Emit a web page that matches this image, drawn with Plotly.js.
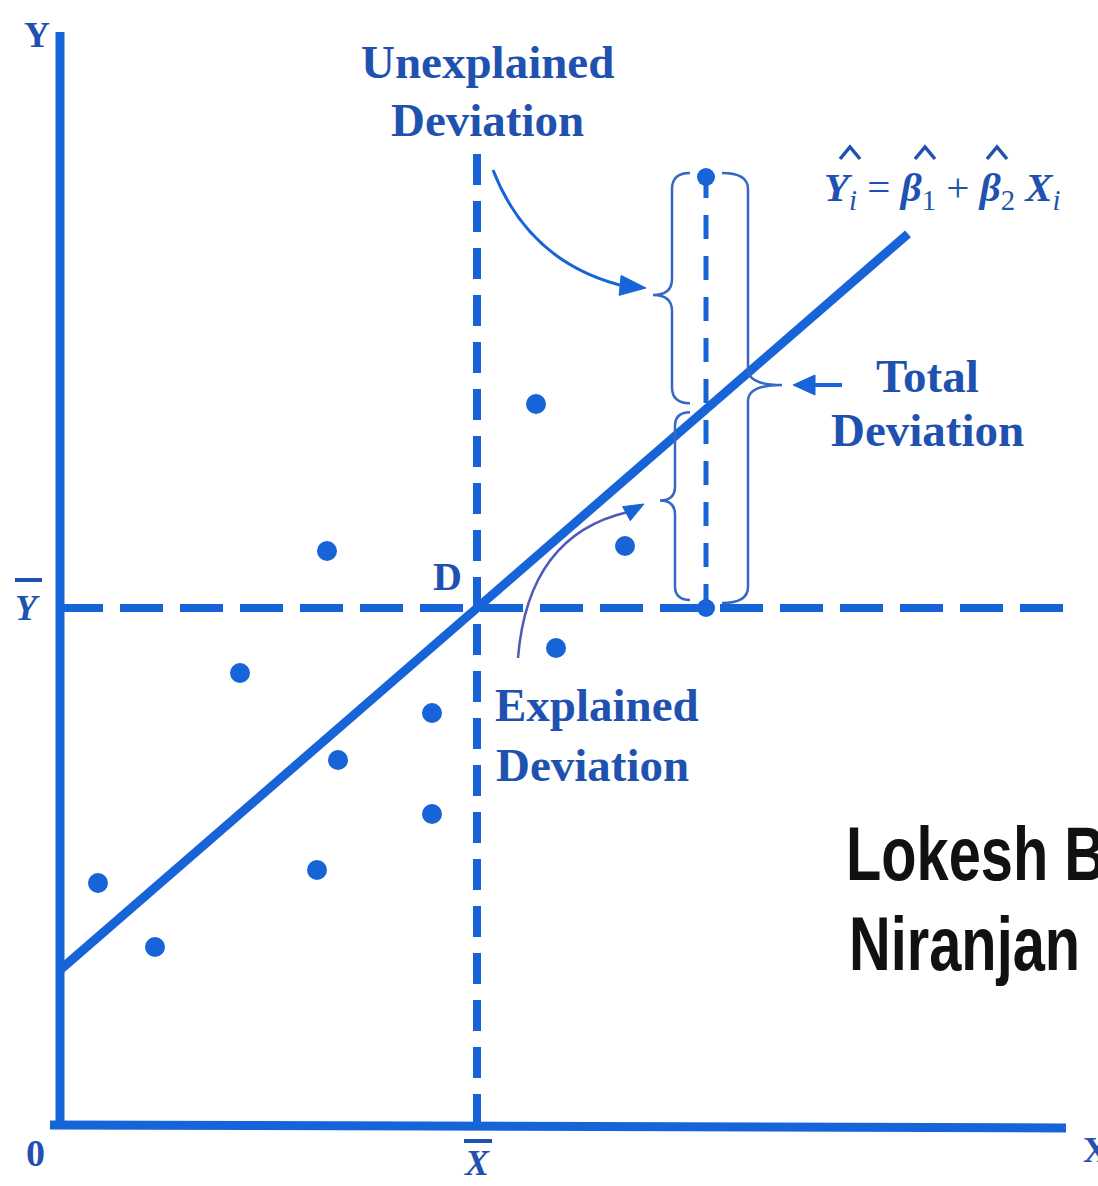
<!DOCTYPE html>
<html>
<head>
<meta charset="utf-8">
<script src="https://cdn.plot.ly/plotly-3.0.1.min.js"></script>
<style>html,body{margin:0;padding:0;background:#fff;}#chart{width:1098px;height:1186px;}</style>
</head>
<body>
<div id="chart"></div>
<script>
// ---- data (diagram units) ----
const obsX = [38, 95, 180, 267, 278, 257, 372, 372, 476, 496, 565];
const obsY = [242, 178, 452, 574, 365, 255, 412, 311, 721, 477, 579];
const meanX = 417;            // X-bar
const meanY = 517;            // Y-bar
const beta1 = 155;            // intercept
const beta2 = (meanY - beta1) / meanX; // slope, line passes through D
const lineX = [0, 848];
const obsXi = 646;            // highlighted observation
const obsYi = 948;
const axisXEnd = 1006;
const axisYTop = 1093;
const meanLineXEnd = 1003;
const meanLineYTop = 975;
const authorLines = ['Lokesh B', 'Niranjan'];

// ---- styles ----
const BLUE = '#1664d8';
const TEXT = '#1f52b0';
const THIN = '#3568c4';
const SERIF = 'Liberation Serif, Times New Roman, serif';
const SANS = 'Liberation Sans Narrow, Liberation Sans, Arial, sans-serif';

const fitY = lineX.map(x => beta1 + beta2 * x);
const yHat = beta1 + beta2 * obsXi;

const traces = [
  // axes
  {x: [0, 0], y: [-2, axisYTop], mode: 'lines', line: {color: BLUE, width: 9}},
  {x: [-10, axisXEnd], y: [0, -3], mode: 'lines', line: {color: BLUE, width: 9}},
  // mean lines
  {x: [0, meanLineXEnd], y: [meanY, meanY], mode: 'lines', line: {color: BLUE, width: 8, dash: '43px,17px'}},
  {x: [meanX, meanX], y: [0, meanLineYTop], mode: 'lines', line: {color: BLUE, width: 8, dash: '31px,16px'}},
  // residual vertical
  {x: [obsXi, obsXi], y: [meanY, obsYi], mode: 'lines', line: {color: BLUE, width: 5, dash: '24px,17px'}},
  // regression line
  {x: lineX, y: fitY, mode: 'lines', line: {color: BLUE, width: 9}},
  // observations
  {x: obsX, y: obsY, mode: 'markers', marker: {color: BLUE, size: 20}},
  {x: [obsXi, obsXi], y: [obsYi, meanY], mode: 'markers', marker: {color: BLUE, size: 18}}
];

// brace path: side 'left' => "{", 'right' => "}"
function brace(xb, yTop, yBot, side, depth, curl, r, tipY) {
  const s = side === 'left' ? -1 : 1;
  const xt = xb + s * depth;
  const xe = xb - s * curl;
  return `M${xe},${yTop} Q${xb},${yTop} ${xb},${yTop - r} L${xb},${tipY + r} ` +
         `Q${xb},${tipY} ${xt},${tipY} Q${xb},${tipY} ${xb},${tipY - r} ` +
         `L${xb},${yBot + r} Q${xb},${yBot} ${xe},${yBot}`;
}
function arrowHead(tx, ty, dx, dy, len, half) {
  const n = Math.hypot(dx, dy); const ux = dx / n, uy = dy / n;
  const bx = tx - ux * len, by = ty - uy * len;
  const px = -uy * half, py = ux * half;
  return `M${tx},${ty} L${bx + px},${by + py} L${bx - px},${by - py} Z`;
}

const shapes = [
  // braces
  {type: 'path', path: brace(obsXi - 34, obsYi + 4, yHat + 6, 'left', 19, 18, 16, (obsYi + yHat) / 2 - 2), line: {color: THIN, width: 2.5}},
  {type: 'path', path: brace(obsXi - 31, yHat - 3, meanY + 8, 'left', 15, 15, 14, (yHat + meanY) / 2 + 8), line: {color: THIN, width: 2.5}},
  {type: 'path', path: brace(obsXi + 42, obsYi + 4, meanY + 5, 'right', 34, 26, 16, 740), line: {color: THIN, width: 2.5}},
  // unexplained arrow
  {type: 'path', path: 'M433,955 Q470,860 568,838', line: {color: BLUE, width: 3}},
  {type: 'path', path: arrowHead(586, 837, 1, -0.1, 26, 10), fillcolor: BLUE, line: {color: BLUE, width: 1}},
  // explained arrow
  {type: 'path', path: 'M458,467 Q468,590 568,613', line: {color: '#4f5cb5', width: 2.5}},
  {type: 'path', path: arrowHead(584, 621, 1, 0.55, 20, 8), fillcolor: BLUE, line: {color: BLUE, width: 1}},
  // total arrow
  {type: 'path', path: 'M782,740 L750,740', line: {color: BLUE, width: 4}},
  {type: 'path', path: arrowHead(733, 740, -1, 0, 22, 10), fillcolor: BLUE, line: {color: BLUE, width: 1}},
  // hats on equation
  {type: 'path', path: 'M780,966 L790,978 L800,966', line: {color: TEXT, width: 3.5}},
  {type: 'path', path: 'M855,966 L865,978 L875,966', line: {color: TEXT, width: 3.5}},
  {type: 'path', path: 'M927,966 L937,978 L947,966', line: {color: TEXT, width: 3.5}},
  // bars on means labels
  {type: 'line', x0: -45, x1: -18, y0: 545, y1: 545, line: {color: TEXT, width: 4}},
  {type: 'line', x0: 404, x1: 432, y0: -16, y1: -16, line: {color: TEXT, width: 4}}
];

function ann(text, x, y, size, opts) {
  return Object.assign({text: text, x: x, y: y, xref: 'x', yref: 'y', showarrow: false,
    font: {family: SERIF, size: size, color: TEXT}}, opts || {});
}

const annotations = [
  ann('<b>Unexplained</b>', 427, 1063, 47),
  ann('<b>Deviation</b>', 427, 1005, 47),
  ann('<b>Total</b>', 867, 749, 47),
  ann('<b>Deviation</b>', 867, 695, 47),
  ann('<b>Explained</b>', 537, 420, 47),
  ann('<b>Deviation</b>', 532, 360, 47),
  ann('<b>D</b>', 387, 549, 40),
  ann('<b>Y</b>', -23, 1090, 36),
  ann('<b>0</b>', -25, -28, 38),
  ann('<b><i>X</i></b>', 417, -38, 36),
  ann('<b><i>Y</i></b>', -33, 517, 36),
  ann('<b>X</b>', 1036, -25, 36),
  ann('<b><i>Y</i></b><sub><i>i</i></sub> = <b><i>β</i></b><sub>1</sub> + <b><i>β</i></b><sub>2</sub> <b><i>X</i></b><sub><i>i</i></sub>', 882, 935, 41),
  ann('<b>' + authorLines[0] + '</b>', 784, 272, 76, {xanchor: 'left', font: {family: SANS, size: 76, color: '#111'}}),
  ann('<b>' + authorLines[1] + '</b>', 787, 182, 76, {xanchor: 'left', font: {family: SANS, size: 76, color: '#111'}})
];

const layout = {
  width: 1098, height: 1186,
  margin: {l: 0, r: 0, t: 0, b: 0},
  paper_bgcolor: '#fff', plot_bgcolor: '#fff',
  showlegend: false,
  xaxis: {range: [-60, 1038], visible: false, fixedrange: true},
  yaxis: {range: [-61, 1125], visible: false, fixedrange: true},
  shapes: shapes,
  annotations: annotations
};

Plotly.newPlot('chart', traces, layout, {staticPlot: true, displayModeBar: false}).then(function (gd) {
  // the original uses a narrow sans face: condense the author lines horizontally
  gd.querySelectorAll('.annotation-text').forEach(function (el) {
    const t = el.textContent;
    if (authorLines.indexOf(t) >= 0) {
      const bb = el.getBBox();
      el.setAttribute('transform', 'translate(' + bb.x + ',0) scale(0.76,1) translate(' + (-bb.x) + ',0)');
    }
  });
});
</script>
</body>
</html>
